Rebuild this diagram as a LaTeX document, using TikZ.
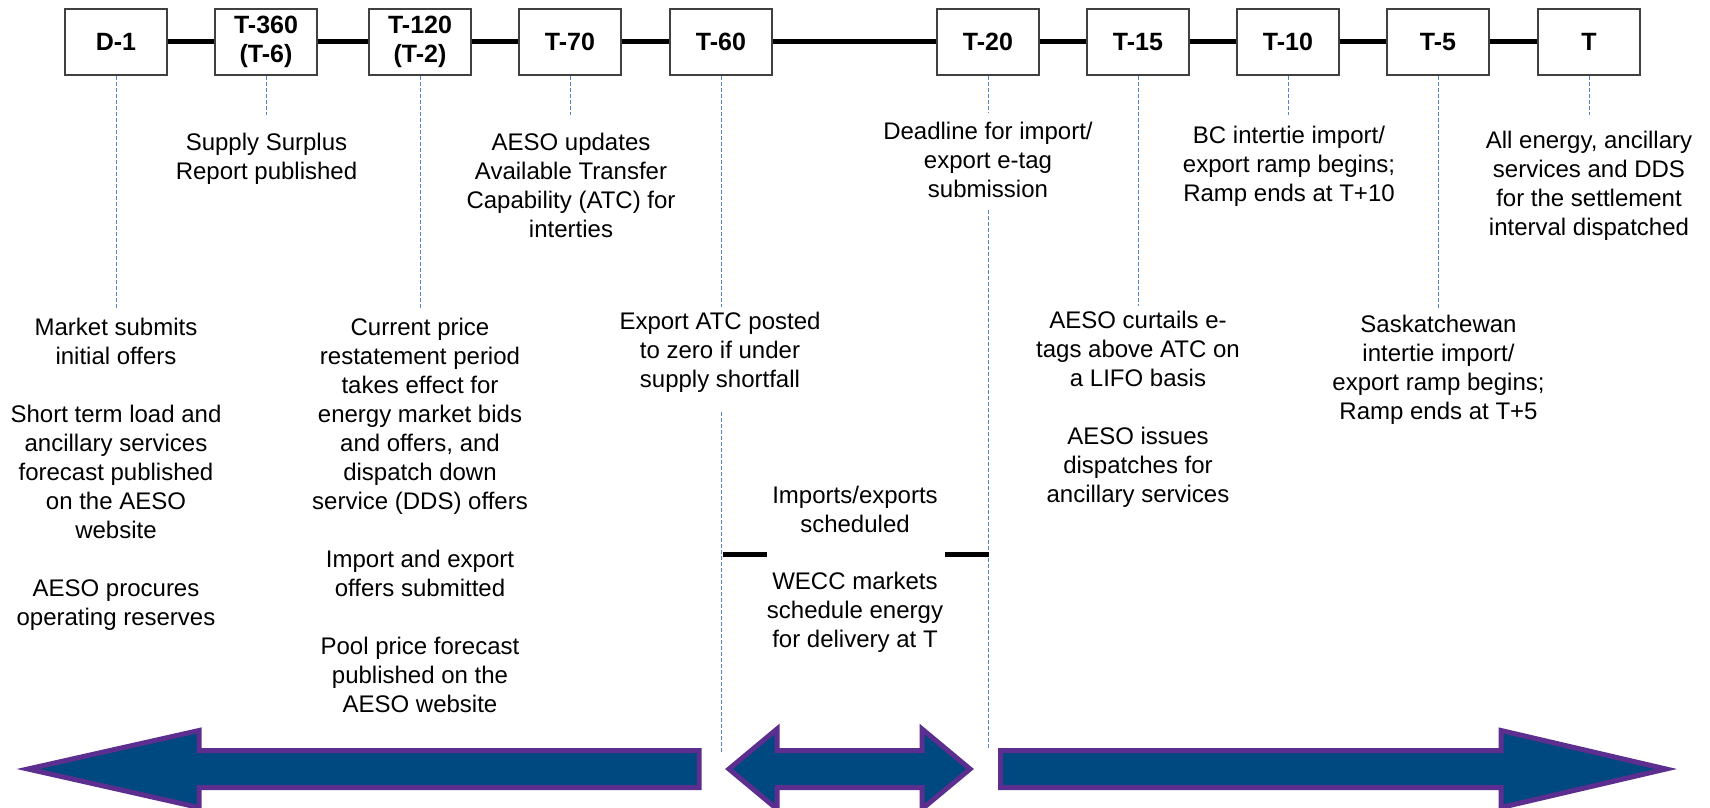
\documentclass[tikz,border=0pt]{standalone}
\usepackage{fontspec}
\setmainfont{Liberation Sans}
\definecolor{guideblue}{RGB}{86,132,204}
\definecolor{arrowfill}{RGB}{0,72,128}
\definecolor{arrowedge}{RGB}{92,46,143}
\definecolor{boxedge}{RGB}{64,64,64}

\begin{document}
\begin{tikzpicture}[x=0.5pt,y=-0.5pt,
  tbox/.style={draw=boxedge, line width=0.6pt, fill=white, minimum width=51pt,
    minimum height=33pt, inner sep=0pt, align=center,
    font=\fontsize{12.5pt}{14.5pt}\selectfont\bfseries},
  axis/.style={line width=2.5pt, black},
  guide/.style={draw=guideblue, line width=0.5pt, dash pattern=on 2pt off 1pt},
  note/.style={anchor=north, inner sep=0pt, align=center,
    font=\fontsize{12pt}{14.5pt}\selectfont},
  bigarrow/.style={fill=arrowfill, draw=arrowedge, line width=2.5pt, line join=miter}]

\useasboundingbox (0,0) rectangle (1710,808);

% time marks
\node[tbox] (d1)   at (116,42)    {D-1};
\node[tbox] (t360) at (266,42)    {T-360\\(T-6)};
\node[tbox] (t120) at (420,42)    {T-120\\(T-2)};
\node[tbox] (t70)  at (570,42)    {T-70};
\node[tbox] (t60)  at (721,42)    {T-60};
\node[tbox] (t20)  at (988,42)    {T-20};
\node[tbox] (t15)  at (1138,42)   {T-15};
\node[tbox] (t10)  at (1288,42)   {T-10};
\node[tbox] (t5)   at (1438,42)   {T-5};
\node[tbox] (t0)   at (1589,42)   {T};

% the time axis
\draw[axis] (d1) -- (t360);
\draw[axis] (t360) -- (t120);
\draw[axis] (t120) -- (t70);
\draw[axis] (t70) -- (t60);
\draw[axis] (t60) -- (t20);
\draw[axis] (t20) -- (t15);
\draw[axis] (t15) -- (t10);
\draw[axis] (t10) -- (t5);
\draw[axis] (t5) -- (t0);

% drop lines
\coordinate (d1e)   at (116,309);
\coordinate (t360e) at (266,115);
\coordinate (t120e) at (420,309);
\coordinate (t70e)  at (570,115);
\coordinate (t60e)  at (721,307);
\coordinate (t60a)  at (721,412);
\coordinate (t60b)  at (721,752);
\coordinate (t20e)  at (988,113);
\coordinate (t20a)  at (988,210);
\coordinate (t20b)  at (988,750);
\coordinate (t15e)  at (1138,306);
\coordinate (t10e)  at (1288,115);
\coordinate (t5e)   at (1438,308);
\coordinate (t0e)   at (1589,115);

\draw[guide] (d1) -- (d1e);
\draw[guide] (t360) -- (t360e);
\draw[guide] (t120) -- (t120e);
\draw[guide] (t70) -- (t70e);
\draw[guide] (t60) -- (t60e);
\draw[guide] (t60a) -- (t60b);
\draw[guide] (t20) -- (t20e);
\draw[guide] (t20a) -- (t20b);
\draw[guide] (t15) -- (t15e);
\draw[guide] (t10) -- (t10e);
\draw[guide] (t5) -- (t5e);
\draw[guide] (t0) -- (t0e);

% event descriptions
\node[note] (n360) at (266.5,129.7) {\strut Supply Surplus\\Report published};
\node[note] (n70)  at (571,129.7) {\strut AESO updates\\Available Transfer\\Capability (ATC) for\\interties};
\node[note] (n20)  at (988,118.7) {\strut Deadline for import/\\export e-tag\\submission};
\node[note] (n10)  at (1289,122.7) {\strut BC intertie import/\\export ramp begins;\\Ramp ends at T+10};
\node[note] (n0)   at (1589,127.7) {\strut All energy, ancillary\\services and DDS\\for the settlement\\interval dispatched};

\node[note] (nd1) at (116,314.7) {\strut Market submits\\initial offers\\[14.5pt]
  Short term load and\\ancillary services\\forecast published\\on the AESO\\website\\[14.5pt]
  AESO procures\\operating reserves};
\node[note] (n120) at (420,314.7) {\strut Current price\\restatement period\\takes effect for\\energy market bids\\and offers, and\\dispatch down\\service (DDS) offers\\[14.5pt]
  Import and export\\offers submitted\\[14.5pt]
  Pool price forecast\\published on the\\AESO website};
\node[note] (n60) at (720,308.7) {\strut Export ATC posted\\to zero if under\\supply shortfall};
\node[note] (n15) at (1138,307.7) {\strut AESO curtails e-\\tags above ATC on\\a LIFO basis\\[14.5pt]
  AESO issues\\dispatches for\\ancillary services};
\node[note] (n5) at (1438.5,311.7) {\strut Saskatchewan\\intertie import/\\export ramp begins;\\Ramp ends at T+5};

% scheduling window between T-60 and T-20
\node[note] (nsched) at (855,482.7) {\strut Imports/exports\\scheduled};
\node[note] (nwecc)  at (855,568.7) {\strut WECC markets\\schedule energy\\for delivery at T};
\coordinate (wl1) at (723,554);
\coordinate (wl2) at (767,554);
\coordinate (wr1) at (945,554);
\coordinate (wr2) at (989,554);
\draw[axis] (wl1) -- (wl2);
\draw[axis] (wr1) -- (wr2);

% period arrows
\filldraw[bigarrow] (28,769) -- (199,730.5) -- (199,750.5) -- (699,750.5)
  -- (699,787.5) -- (199,787.5) -- (199,807.5) -- cycle;
\filldraw[bigarrow] (729,769) -- (777,729) -- (777,750.5) -- (922,750.5)
  -- (922,729) -- (970,769) -- (922,809) -- (922,787.5) -- (777,787.5)
  -- (777,809) -- cycle;
\filldraw[bigarrow] (1000.5,750.5) -- (1501,750.5) -- (1501,730.5) -- (1666,769)
  -- (1501,807.5) -- (1501,787.5) -- (1000.5,787.5) -- cycle;

\end{tikzpicture}
\end{document}
